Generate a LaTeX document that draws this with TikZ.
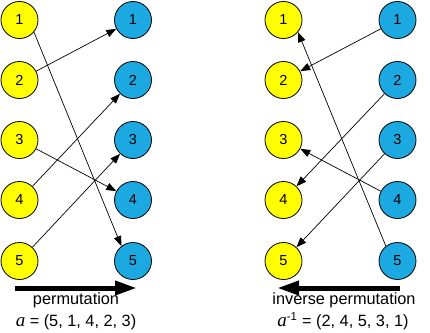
\documentclass[tikz,border=0pt]{standalone}
\usepackage{fontspec}
\setmainfont{Liberation Sans}
\newfontfamily\letterfont{Liberation Serif}
\usepackage{tikz}
\usetikzlibrary{arrows.meta,positioning,calc}
\definecolor{permyellow}{RGB}{255,255,0}
\definecolor{permblue}{RGB}{28,168,224}
\tikzset{
  srcnode/.style={draw=black, line width=0.8pt, fill=permyellow, circle,
    minimum size=37pt, inner sep=0pt, font=\fontsize{14.5}{17}\selectfont},
  dstnode/.style={draw=black, line width=0.8pt, fill=permblue, circle,
    minimum size=37pt, inner sep=0pt, font=\fontsize{14.5}{17}\selectfont},
  maplink/.style={-{Triangle[length=10pt, width=7.5pt]}, line width=0.7pt},
  bigarrow/.style={-{Triangle[length=22pt, width=13.5pt]}, line width=5pt},
  caption/.style={font=\fontsize{16.3}{18}\selectfont, inner sep=0pt,
    anchor=base},
}

\begin{document}
\begin{tikzpicture}[x=1pt, y=-1pt]

\useasboundingbox (0,0) rectangle (430,332);

%% ── Permutation: left half ───────────────────────────────────────────────
\node[srcnode] (la1) at (19.5, 20) {1};
\node[srcnode] (la2) at (19.5, 80) {2};
\node[srcnode] (la3) at (19.5,140) {3};
\node[srcnode] (la4) at (19.5,200) {4};
\node[srcnode] (la5) at (19.5,261) {5};

\node[dstnode] (lb1) at (133, 20) {1};
\node[dstnode] (lb2) at (133, 80) {2};
\node[dstnode] (lb3) at (133,140) {3};
\node[dstnode] (lb4) at (133,200) {4};
\node[dstnode] (lb5) at (133,261) {5};

\draw[maplink] (la1.-40) -- (lb5.128);
\draw[maplink] (la2) -- (lb1);
\draw[maplink] (la3) -- (lb4);
\draw[maplink] (la4) -- (lb2);
\draw[maplink] (la5) -- (lb3);

\coordinate (lstart) at (15,288);
\coordinate (lend)   at (137,288);
\draw[bigarrow] (lstart) -- (lend);

\node[caption] (lname) at (76,304.5) {permutation};
\node[caption] (lperm) at (76,326.5)
  {{\letterfont\itshape\fontsize{19}{19}\selectfont a} = (5, 1, 4, 2, 3)};

%% ── Inverse permutation: right half ──────────────────────────────────────
\node[srcnode] (ra1) at (283.5, 20) {1};
\node[srcnode] (ra2) at (283.5, 80) {2};
\node[srcnode] (ra3) at (283.5,140) {3};
\node[srcnode] (ra4) at (283.5,200) {4};
\node[srcnode] (ra5) at (283.5,261) {5};

\node[dstnode] (rb1) at (397.5, 20) {1};
\node[dstnode] (rb2) at (397.5, 80) {2};
\node[dstnode] (rb3) at (397.5,140) {3};
\node[dstnode] (rb4) at (397.5,200) {4};
\node[dstnode] (rb5) at (397.5,261) {5};

\draw[maplink] (rb1) -- (ra2);
\draw[maplink] (rb2) -- (ra4);
\draw[maplink] (rb3) -- (ra5);
\draw[maplink] (rb4) -- (ra3);
\draw[maplink] (rb5.128) -- (ra1.-40);

\coordinate (rstart) at (400,288);
\coordinate (rend)   at (277,288);
\draw[bigarrow] (rstart) -- (rend);

\node[caption] (rname) at (344,304.5) {inverse permutation};
\node[caption] (rperm) at (343,326.5)
  {{\letterfont\itshape\fontsize{19}{19}\selectfont a}\textsuperscript{-1} = (2, 4, 5, 3, 1)};

\end{tikzpicture}
\end{document}
